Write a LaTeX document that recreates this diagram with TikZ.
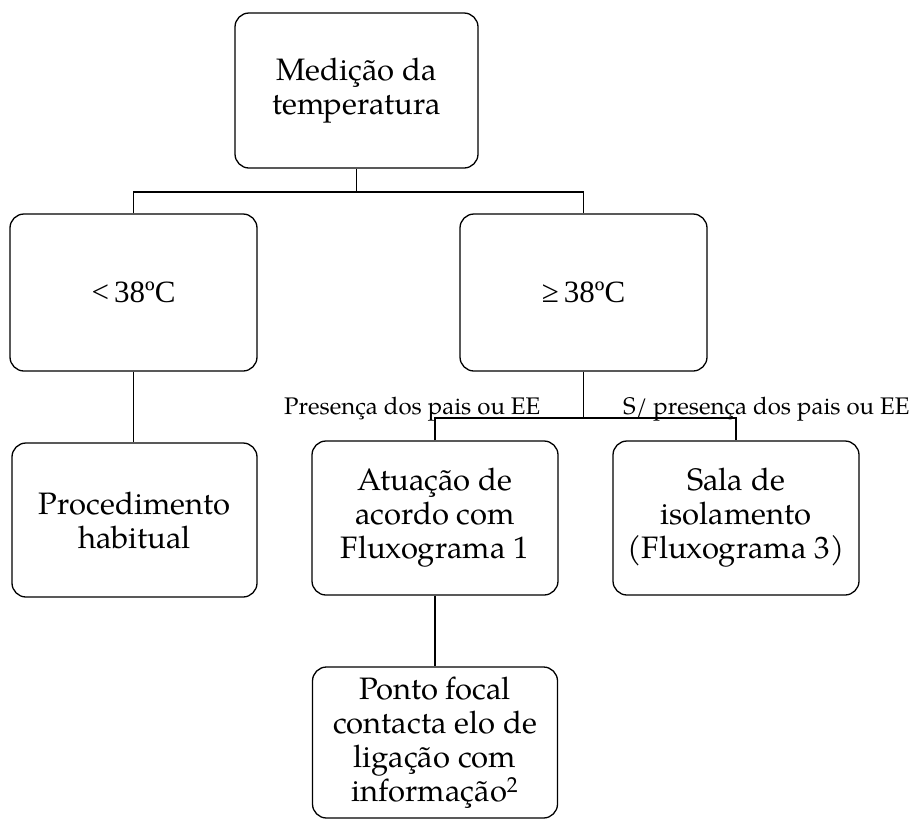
\documentclass[tikz,border=0pt]{standalone}
\usepackage{fontspec}
\setmainfont{TeX Gyre Pagella}
\newfontfamily\timesfont{Liberation Serif}
\begin{document}
\begin{tikzpicture}[x=1pt,y=-1pt,
  box/.style={draw, line width=1.3pt, rounded corners=14pt, align=center,
    inner sep=0pt, font=\fontsize{31}{34}\selectfont},
  lbl/.style={inner sep=0pt, font=\fontsize{24}{28}\selectfont},
  conn/.style={line width=1.1pt}]
\useasboundingbox (0,0) rectangle (921,820);
\node[box, minimum width=243pt, minimum height=155pt] (top) at (356.5,90.5) {Medição da\\temperatura};
\node[box, minimum width=247pt, minimum height=157pt, font=\timesfont\fontsize{31}{34}\selectfont] (lt) at (133.5,292.5) {<\,38ºC};
\node[box, minimum width=247pt, minimum height=157pt, font=\timesfont\fontsize{31}{34}\selectfont] (ge) at (583.5,292.5) {≥\,38ºC};
\node[box, minimum width=245pt, minimum height=154pt] (proc) at (134.5,520) {Procedimento\\habitual};
\node[box, minimum width=246pt, minimum height=154pt] (at) at (435,518) {Atuação de\\acordo com\\Fluxograma 1};
\node[box, minimum width=246pt, minimum height=154pt] (sala) at (736,518) {Sala de\\isolamento\\(Fluxograma 3)};
\node[box, minimum width=245pt, minimum height=151pt] (ponto) at (435,742.5) {Ponto focal\\contacta elo de\\ligação com\\informação\textsuperscript{2}};
\node[lbl, anchor=base west] (l1) at (284,414) {Presença dos pais ou EE};
\node[lbl, anchor=base west] (l2) at (623,414) {S/ presença dos pais ou EE};
\coordinate (j1) at (357,192);
\coordinate (j2) at (583.5,418);
\draw[conn] (top.south) -- (top.south |- j1);
\draw[conn] (lt.north) |- (j1) -| (ge.north);
\draw[conn] (lt.south) -- (lt.south |- proc.north);
\draw[conn] (ge.south) -- (j2);
\draw[conn] (at.north) |- (j2) -| (sala.north);
\draw[conn] (at.south) -- (at.south |- ponto.north);
\end{tikzpicture}
\end{document}
